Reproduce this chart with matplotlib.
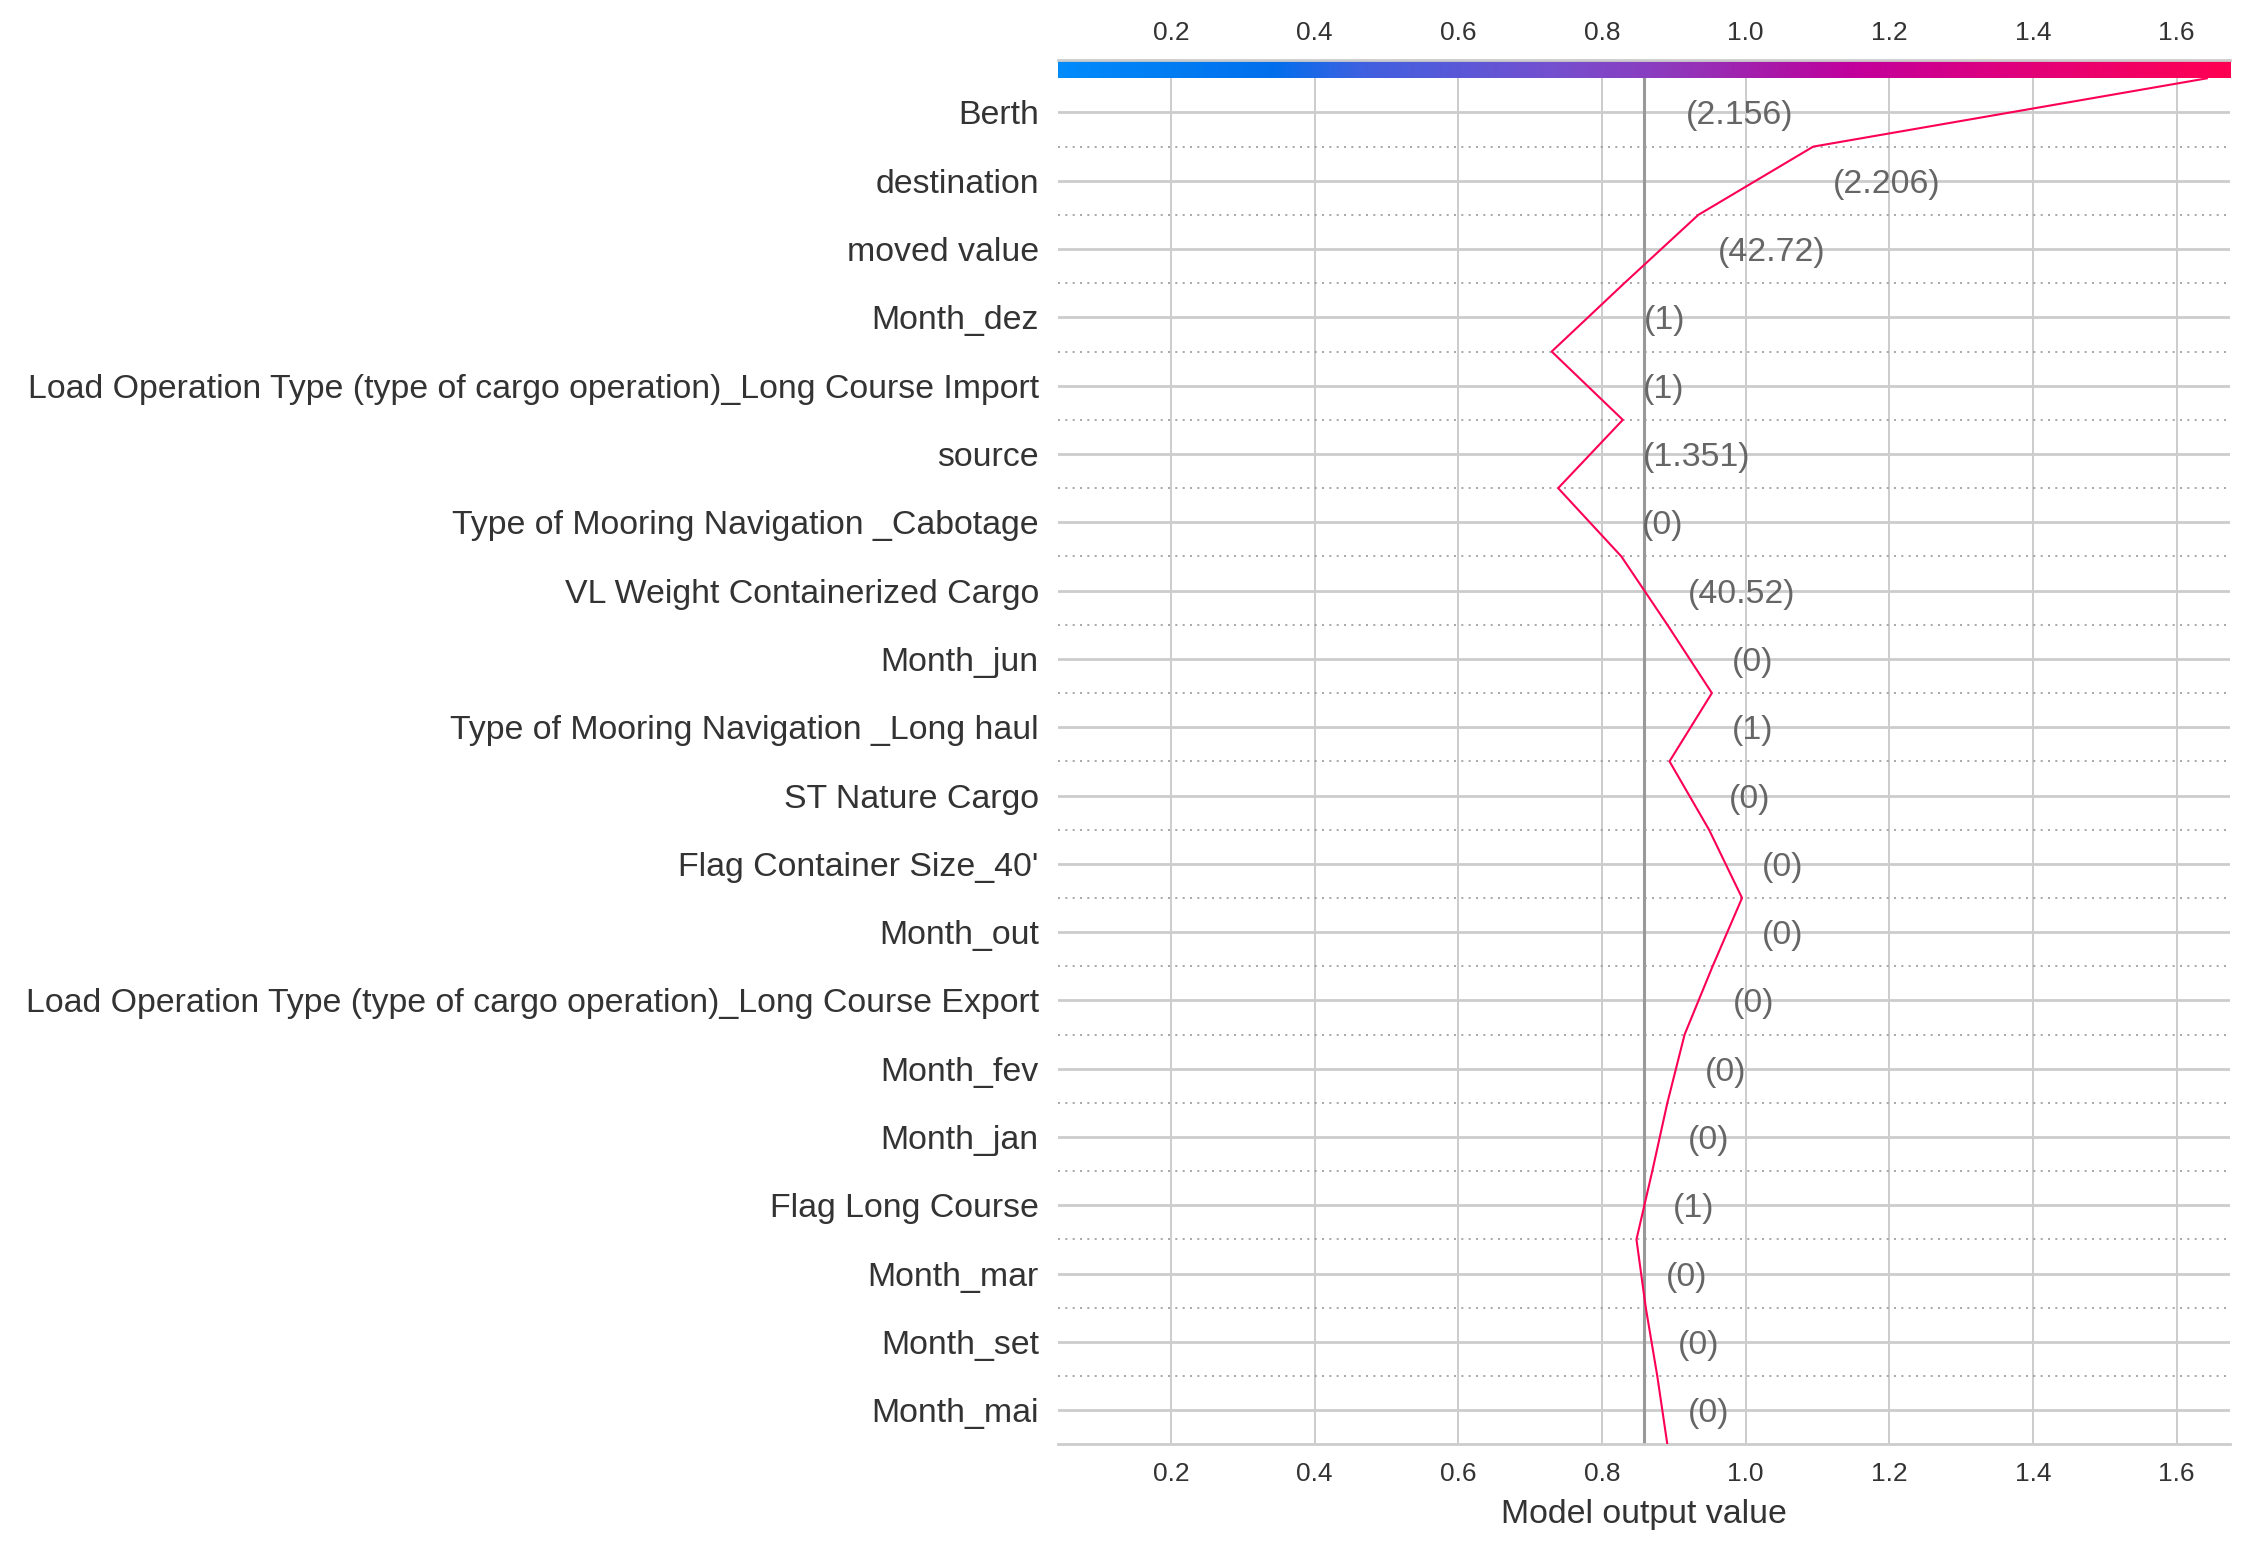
import numpy as np
import matplotlib
matplotlib.use("Agg")
import matplotlib.pyplot as plt
from matplotlib.colors import LinearSegmentedColormap, Normalize

plt.rcParams['font.family'] = ['Liberation Sans', 'DejaVu Sans']

# features from top to bottom, with the shown feature values
features = ["Berth", "destination", "moved value", "Month_dez",
            "Load Operation Type (type of cargo operation)_Long Course Import",
            "source", "Type of Mooring Navigation _Cabotage",
            "VL Weight Containerized Cargo", "Month_jun",
            "Type of Mooring Navigation _Long haul", "ST Nature Cargo",
            "Flag Container Size_40'", "Month_out",
            "Load Operation Type (type of cargo operation)_Long Course Export",
            "Month_fev", "Month_jan", "Flag Long Course", "Month_mar",
            "Month_set", "Month_mai"]
feature_values = ["2.156", "2.206", "42.72", "1", "1", "1.351", "0", "40.52",
                  "0", "1", "0", "0", "0", "0", "0", "0", "1", "0", "0", "0"]

# cumulative model output, from the bottom boundary (y=0) up to the top (y=20)
output_path = [0.891, 0.877, 0.861, 0.848, 0.870, 0.891, 0.915, 0.954, 0.995,
               0.949, 0.894, 0.953, 0.891, 0.827, 0.739, 0.829, 0.730, 0.831,
               0.934, 1.094, 1.642]
base_value = 0.859
xlim = (0.0423, 1.6738)
xticks = [0.2, 0.4, 0.6, 0.8, 1.0, 1.2, 1.4, 1.6]

# shap-like red/blue colormap
cmap = LinearSegmentedColormap.from_list("red_blue", [
    (0.00, "#008bfb"), (0.18, "#006fec"), (0.26, "#4060e0"),
    (0.42, "#7450cf"), (0.52, "#8e3abd"), (0.62, "#ac14a6"),
    (0.68, "#c2009c"), (0.80, "#dc0080"), (0.92, "#f20064"),
    (1.00, "#ff0052")])
norm = Normalize(vmin=xlim[0], vmax=xlim[1])

n = len(features)
fig = plt.figure(figsize=(2247 / 200, 1542 / 200), dpi=200)
ax = fig.add_axes([0.4707, 0.0633, 0.5216, 0.8859])

# grid
for xt in xticks:
    ax.axvline(xt, color="#cccccc", lw=0.7, zorder=0)
for i in range(n):
    ax.axhline(i + 0.5, color="#cccccc", lw=1.0, zorder=0)
for i in range(1, n):
    ax.axhline(i, color="#999999", lw=0.6, ls=(0, (1.2, 3.2)), zorder=0)
ax.axvline(base_value, color="#999999", lw=1.1, zorder=1)

# decision line
y_pos = np.arange(n + 1)
ax.plot(output_path, y_pos, color=cmap(norm(output_path[-1])), lw=0.75, zorder=4)

# feature value labels next to the line
margin = 0.028
for k in range(n):
    i = n - 1 - k          # row index from bottom
    lo = min(output_path[i], output_path[i + 1])
    hi = max(output_path[i], output_path[i + 1])
    if hi + margin > 1.5:
        x, ha = lo - margin, "right"
    else:
        x, ha = hi + margin, "left"
    ax.text(x, i + 0.5, "(" + feature_values[k] + ")", ha=ha,
            va="center_baseline", fontsize=12.2, color="#666666", zorder=3)

ax.set_xlim(xlim)
ax.set_ylim(0, n)
ax.set_xticks(xticks)
ax.set_xticklabels(["%.1f" % t for t in xticks])
ax.set_yticks(np.arange(n) + 0.5)
ax.set_yticklabels(features[::-1])
ax.tick_params(axis="y", length=0, pad=6.8, labelsize=12.2, labelcolor="#333333")
ax.tick_params(axis="x", length=0, pad=6.5, labelsize=9.5, labelcolor="#333333")
for s in ["top", "right", "left"]:
    ax.spines[s].set_visible(False)
ax.spines["bottom"].set_color("#cccccc")
ax.spines["bottom"].set_linewidth(1.0)
ax.set_xlabel("Model output value", fontsize=12.2, color="#333333", labelpad=4.5)

# colour bar on top, same x range
cax = fig.add_axes([0.4707, 0.9492, 0.5216, 0.0119])
grad = np.linspace(xlim[0], xlim[1], 512).reshape(1, -1)
cax.imshow(grad, cmap=cmap, norm=norm, aspect="auto",
           extent=[xlim[0], xlim[1], 0, 1])
cax.set_xlim(xlim)
cax.set_yticks([])
cax.set_xticks(xticks)
cax.set_xticklabels(["%.1f" % t for t in xticks])
cax.xaxis.tick_top()
cax.tick_params(axis="x", length=0, pad=5.5, labelsize=9.5, labelcolor="#333333")
for s in ["bottom", "right", "left"]:
    cax.spines[s].set_visible(False)
cax.spines["top"].set_color("#cccccc")
cax.spines["top"].set_linewidth(1.0)

fig.savefig("out.png", dpi=200)
